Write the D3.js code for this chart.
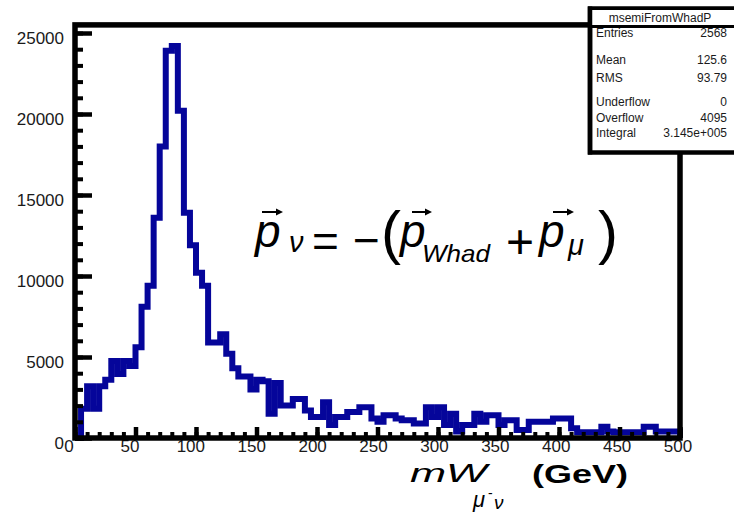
<!DOCTYPE html>
<html><head><meta charset="utf-8">
<script src="https://cdn.jsdelivr.net/npm/d3@7"></script>
<style>
html,body{margin:0;padding:0;background:#fff;}
svg{display:block;}
text{font-family:"Liberation Sans",Arial,Helvetica,sans-serif;}
</style>
</head><body>
<svg id="chart" width="734" height="525"></svg>
<script>
// ---- data ----
const binWidth = 5;
const binLowEdges = d3.range(0, 500, binWidth);
const binCounts = [
  0,1800,3200,1800,3200,3600,4750,3950,4750,4450,
  5600,8100,9400,13600,18000,23900,24200,20200,13900,11900,
  10200,9400,5900,5900,6400,5200,4300,3800,3800,3000,
  3600,3500,1500,3400,2000,2000,2400,2400,1700,1300,
  1300,2200,800,1300,1300,1600,1600,1900,1900,1200,
  1000,1400,1400,1200,1100,1100,900,900,1900,1300,
  1900,800,1500,400,800,800,1500,1000,1400,1400,
  800,1100,1100,500,500,1000,1000,1000,1000,1200,
  1200,1200,600,350,350,350,350,700,400,350,
  350,350,350,350,700,700,400,400,400,400
];
const xTickValues = [0,50,100,150,200,250,300,350,400,450,500];
const xMinorTickValues = d3.range(0, 501, 10);
const yTickValues = [0,5000,10000,15000,20000,25000];
const yMinorTickValues = d3.range(0, 25001, 1000);
const statsTitle = "msemiFromWhadP";
const statLabels = ["Entries","Mean","RMS","Underflow","Overflow","Integral"];
const statValues = ["2568","125.6","93.79","0","4095","3.145e+005"];

// ---- scales ----
const svg = d3.select("#chart");
const x = d3.scaleLinear().domain([0, 500]).range([75, 680]);
const y = d3.scaleLinear().domain([0, 25500]).range([438, 24.9]);

// ---- histogram ----
const pts = [[0, 0]];
binLowEdges.forEach((lo, i) => { pts.push([lo, binCounts[i]]); pts.push([lo + binWidth, binCounts[i]]); });
pts.push([500, 0]);
svg.append("path")
  .attr("d", d3.line().x(d => x(d[0])).y(d => y(d[1]))(pts))
  .attr("fill", "none").attr("stroke", "#05059a").attr("stroke-width", 6)
  .attr("stroke-linejoin", "miter").attr("stroke-miterlimit", 10);

// ---- axes ----
function styleAxis(g, w) {
  g.select(".domain").remove();
  g.selectAll(".tick line").attr("stroke", "#000").attr("stroke-width", w);
}
svg.append("g").attr("transform", "translate(75,0)")
  .call(d3.axisLeft(y).tickValues(yMinorTickValues).tickSize(-8).tickFormat(""))
  .call(g => styleAxis(g, 4));
svg.append("g").attr("transform", "translate(75,0)")
  .call(d3.axisLeft(y).tickValues(yTickValues).tickSize(-17).tickPadding(11).tickFormat(d3.format("d")))
  .call(g => styleAxis(g, 4.5))
  .call(g => g.selectAll("text").attr("font-size", 17).attr("fill", "#1a1a1a").attr("dy", 10)
        .attr("font-family", "'Liberation Sans',Arial,sans-serif"));

svg.append("g").attr("transform", "translate(0,438)")
  .call(d3.axisBottom(x).tickValues(xMinorTickValues).tickSize(-6).tickFormat(""))
  .call(g => styleAxis(g, 4));
svg.append("g").attr("transform", "translate(0,438)")
  .call(d3.axisBottom(x).tickValues(xTickValues).tickSize(-11).tickPadding(14).tickFormat(d3.format("d")))
  .call(g => styleAxis(g, 4.5))
  .call(g => g.selectAll("text").attr("font-size", 17).attr("fill", "#1a1a1a").attr("dy", 0)
        .attr("dx", d => -6.5 + 4 * d / 500)
        .attr("font-family", "'Liberation Sans',Arial,sans-serif"));

// frame
svg.append("rect").attr("x", x(0)).attr("y", y(25500)).attr("width", x(500) - x(0)).attr("height", y(0) - y(25500))
  .attr("fill", "none").attr("stroke", "#000").attr("stroke-width", 5.5);

// ---- stats box ----
const box = svg.append("g");
box.append("rect").attr("x", 590).attr("y", 8.5).attr("width", 170).attr("height", 144)
  .attr("fill", "#fff").attr("stroke", "#000").attr("stroke-width", 4.5);
const rowY = [37, 64, 82, 106, 122, 137];
statLabels.forEach((lab, i) => {
  box.append("text").attr("x", 596).attr("y", rowY[i]).attr("font-size", 12).attr("fill", "#1a1a1a").text(lab);
  box.append("text").attr("x", 727).attr("y", rowY[i]).attr("font-size", 12).attr("fill", "#1a1a1a")
    .attr("text-anchor", "end").text(statValues[i]);
});
box.append("rect").attr("x", 590).attr("y", 8.5).attr("width", 170).attr("height", 18)
  .attr("fill", "#fff").attr("stroke", "#000").attr("stroke-width", 3);
box.append("line").attr("x1", 590).attr("x2", 590).attr("y1", 6.5).attr("y2", 154.5)
  .attr("stroke", "#000").attr("stroke-width", 4.5);
box.append("text").attr("x", 660).attr("y", 21.5).attr("text-anchor", "middle").attr("font-size", 12)
  .attr("fill", "#1a1a1a").text(statsTitle);

// ---- formula ----
const formula = svg.append("g").attr("fill", "#000");
function piece(t, px, py, size, opts = {}) {
  const el = formula.append("text").attr("x", px).attr("y", py).attr("font-size", size).text(t);
  if (opts.italic) el.attr("font-style", "italic");
  if (opts.bold) el.attr("font-weight", "bold");
  if (opts.len) el.attr("textLength", opts.len).attr("lengthAdjust", "spacingAndGlyphs");
  return el;
}
function arrow(x1, x2, ay) {
  formula.append("line").attr("x1", x1).attr("x2", x2 - 3).attr("y1", ay).attr("y2", ay)
    .attr("stroke", "#000").attr("stroke-width", 2);
  formula.append("path").attr("d", `M${x2},${ay} L${x2 - 7},${ay - 3.5} L${x2 - 7},${ay + 3.5} Z`);
}
piece("p", 255, 247, 46, {italic: true});
arrow(262, 283, 212);
piece("ν", 289, 252, 29, {italic: true});
piece("=", 312, 257, 46);
piece("\u2212", 353, 256, 46);
piece("(", 381, 253, 60);
piece("p", 400, 247, 46, {italic: true});
arrow(412, 432, 212);
piece("Whad", 422, 262, 24, {italic: true, len: 68});
piece("+", 506, 258, 48);
piece("p", 539, 247, 46, {italic: true});
arrow(553, 574, 212);
piece("μ", 568, 255, 29, {italic: true});
piece(")", 598, 253, 60);

// ---- x axis title ----
piece("mW", 410, 482, 25, {italic: true, len: 77});
piece("μ", 473, 507, 22, {italic: true});
piece("-", 488, 498, 14);
piece("ν", 494, 509, 19, {italic: true});
piece("(GeV)", 532, 483, 26, {bold: true, len: 96});
</script>
</body></html>
